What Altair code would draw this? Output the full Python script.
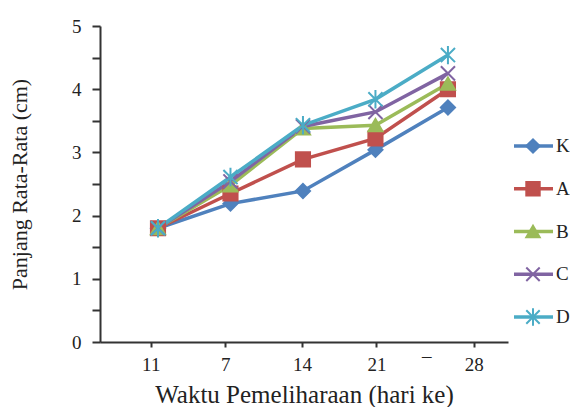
import altair as alt
import pandas as pd

days = [0, 7, 14, 21, 28]
series = ["K", "A", "B", "C", "D"]
K = [1.80, 2.19, 2.39, 3.04, 3.71]
A = [1.80, 2.35, 2.89, 3.22, 4.00]
B = [1.80, 2.48, 3.38, 3.43, 4.09]
C = [1.80, 2.54, 3.41, 3.64, 4.25]
D = [1.80, 2.61, 3.43, 3.84, 4.54]
x_tick_values = [-0.7, 6.5, 13.9, 21.1, 25.9, 30.5]
x_tick_labels = ["11", "7", "14", "21", "¯", "28"]
y_tick_values = [0, 0.5, 1, 1.5, 2, 2.5, 3, 3.5, 4, 4.5, 5]

colors = ["#4F81BD", "#C0504D", "#9BBB59", "#8064A2", "#4BACC6"]
shapes = [
    "diamond",
    "square",
    "triangle-up",
    "M-1,-1L1,1M-1,1L1,-1",
    "M-1,-1L1,1M-1,1L1,-1M0,-1.3L0,1.3",
]

rows = []
for s, vals in zip(series, [K, A, B, C, D]):
    for d, v in zip(days, vals):
        rows.append({"series": s, "day": d, "value": v})
df = pd.DataFrame(rows)
legend_df = pd.DataFrame({"series": series})

FONT = "Liberation Serif"
TXT = "#222222"

label_expr = " : ".join(
    f"datum.value == {v} ? '{l}'" for v, l in zip(x_tick_values, x_tick_labels)
) + " : ''"

xenc = alt.X(
    "day:Q",
    scale=alt.Scale(domain=[-5.6, 33.8], nice=False, zero=False),
    axis=alt.Axis(
        values=x_tick_values,
        labelExpr=label_expr,
        title="Waktu  Pemeliharaan (hari ke)",
        titleFont=FONT,
        titleFontSize=25,
        titlePadding=8,
        labelFont=FONT,
        labelFontSize=19,
        labelPadding=8,
        tickSize=5,
        tickOpacity={"condition": {"test": "datum.value == 25.9", "value": 0}, "value": 1},
    ),
)
yenc = alt.Y(
    "value:Q",
    scale=alt.Scale(domain=[0, 5], nice=False),
    axis=alt.Axis(
        values=y_tick_values,
        labelExpr="datum.value % 1 === 0 ? format(datum.value, 'd') : ''",
        title="Panjang Rata-Rata (cm)",
        titleFont=FONT,
        titleFontSize=22,
        titlePadding=40,
        labelFont=FONT,
        labelFontSize=19,
        labelPadding=11,
        tickSize=8,
    ),
)

color_scale = alt.Scale(domain=series, range=colors)
shape_scale = alt.Scale(domain=series, range=shapes)

lines = alt.Chart(df).mark_line(strokeWidth=3.5).encode(
    x=xenc,
    y=yenc,
    color=alt.Color("series:N", scale=color_scale, legend=None, sort=series),
)
points = alt.Chart(df).mark_point(filled=True, opacity=1, strokeWidth=2, size=200).encode(
    x=xenc,
    y=yenc,
    shape=alt.Shape("series:N", scale=shape_scale, legend=None),
    fill=alt.Fill("series:N", scale=color_scale, legend=None),
    stroke=alt.Stroke("series:N", scale=color_scale, legend=None),
)
plot = alt.layer(lines, points).properties(width=408, height=316)

ly = alt.Y("series:N", sort=series, axis=None,
           scale=alt.Scale(type="point", range=[120, 291], padding=0))
leg_rule = alt.Chart(legend_df).mark_rule(strokeWidth=3.5).encode(
    x=alt.value(6), x2=alt.value(45), y=ly,
    color=alt.Color("series:N", scale=color_scale, legend=None),
)
leg_pt = alt.Chart(legend_df).mark_point(filled=True, opacity=1, strokeWidth=2, size=180).encode(
    x=alt.value(25), y=ly,
    shape=alt.Shape("series:N", scale=shape_scale, legend=None),
    fill=alt.Fill("series:N", scale=color_scale, legend=None),
    stroke=alt.Stroke("series:N", scale=color_scale, legend=None),
)
leg_txt = alt.Chart(legend_df).mark_text(
    align="left", baseline="middle", font=FONT, fontSize=19, color=TXT
).encode(x=alt.value(48), y=ly, text="series:N")
legend = alt.layer(leg_rule, leg_pt, leg_txt).properties(width=60, height=316)

chart = alt.hconcat(plot, legend, spacing=0).properties(
    padding={"left": 0, "top": 9, "right": 0, "bottom": 0},
    background="white",
).configure_view(stroke=None).configure_axis(
    domainColor="#333333",
    domainWidth=2,
    tickColor="#333333",
    tickWidth=2,
    labelFont=FONT,
    titleFont=FONT,
    labelColor=TXT,
    titleColor=TXT,
    titleFontWeight="normal",
    grid=False,
)

chart.save("out.html", embed_options={"renderer": "svg", "actions": False})
